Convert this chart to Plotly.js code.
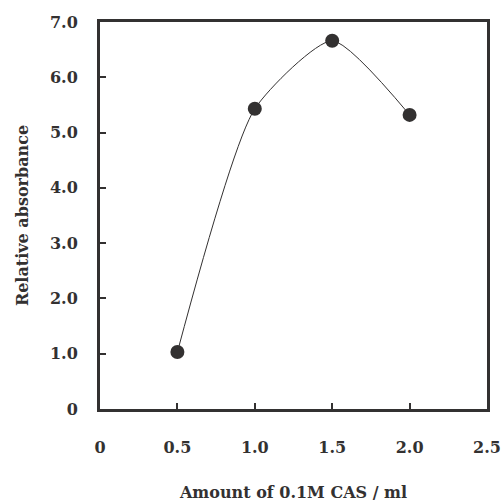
<!DOCTYPE html>
<html>
<head>
<meta charset="utf-8">
<script src="https://cdn.plot.ly/plotly-3.0.1.min.js"></script>
<style>html,body{margin:0;padding:0;background:#fff;}#chart{width:501px;height:502px;}</style>
</head>
<body>
<div id="chart"></div>
<script>
const casAmount = [0.5, 1.0, 1.5, 2.0];
const relAbsorbance = [1.03, 5.43, 6.66, 5.32];
const xTickVals = [0, 0.5, 1.0, 1.5, 2.0, 2.5];
const xTickText = ["0", "0.5", "1.0", "1.5", "2.0", "2.5"];
const yTickVals = [0, 1, 2, 3, 4, 5, 6, 7];
const yTickText = ["0", "1.0", "2.0", "3.0", "4.0", "5.0", "6.0", "7.0"];
const xTitle = "Amount of 0.1M CAS / ml";
const yTitle = "Relative absorbance";

const ink = "#333131";
const font = {family: "DejaVu Serif", size: 16, color: ink, weight: "bold"};
const titleFont = {family: "DejaVu Serif", size: 16, color: ink, weight: "bold"};

Plotly.newPlot("chart", [{
  x: casAmount, y: relAbsorbance, type: "scatter", mode: "lines+markers",
  line: {shape: "spline", smoothing: 0.6, color: ink, width: 1},
  marker: {size: 14, color: ink}
}], {
  width: 501, height: 502,
  margin: {l: 100, r: 14, t: 22, b: 93},
  paper_bgcolor: "#fff", plot_bgcolor: "#fff",
  showlegend: false,
  font: font,
  xaxis: {
    range: [0, 2.5], tickvals: xTickVals, ticktext: xTickText,
    showgrid: false, zeroline: false, showline: true, mirror: true,
    linecolor: ink, linewidth: 3, ticks: "inside", ticklen: 6, tickwidth: 2, tickcolor: ink,
    ticklabelstandoff: 22, tickfont: font,
    title: {text: xTitle, font: titleFont, standoff: 31},
    automargin: false
  },
  yaxis: {
    range: [0, 7], tickvals: yTickVals, ticktext: yTickText,
    showgrid: false, zeroline: false, showline: true, mirror: true,
    linecolor: ink, linewidth: 3, ticks: "inside", ticklen: 6, tickwidth: 2, tickcolor: ink,
    ticklabelstandoff: 16, tickfont: font,
    title: {text: yTitle, font: titleFont, standoff: 18},
    automargin: false
  }
}, {staticPlot: true, displayModeBar: false});
</script>
</body>
</html>
